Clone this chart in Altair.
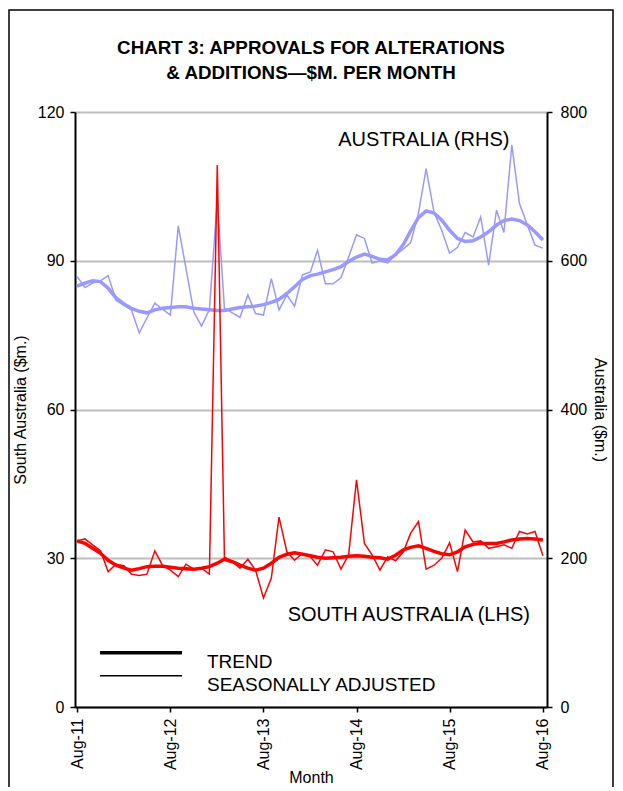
import altair as alt
import pandas as pd

months = pd.date_range("2011-08-01", periods=61, freq="MS").strftime("%Y-%m-%d").tolist()

sa_adj = [33.5, 33.9, 32.7, 31.5, 27.3, 28.8, 28.5, 26.8, 26.5, 26.8,
          31.5, 28.6, 27.6, 26.3, 28.8, 27.8, 28.0, 26.8, 109.3, 30.2,
          29.3, 28.0, 29.8, 27.6, 22.0, 26.0, 38.3, 31.3, 29.6, 31.0,
          30.3, 28.6, 31.7, 31.3, 27.8, 30.7, 45.8, 33.0, 30.7, 27.6,
          30.3, 29.5, 31.3, 35.0, 37.4, 27.8, 28.6, 30.0, 33.1, 27.3,
          35.7, 33.3, 33.5, 32.0, 32.3, 32.7, 32.0, 35.4, 34.9, 35.4, 30.5]
sa_trend = [33.5, 33.0, 32.0, 31.0, 29.6, 28.6, 28.0, 27.6, 27.9, 28.3,
            28.4, 28.4, 28.2, 28.0, 27.9, 27.8, 28.0, 28.3, 29.0, 29.8,
            29.3, 28.6, 28.0, 27.6, 28.0, 29.0, 30.2, 30.8, 31.1, 30.8,
            30.5, 30.2, 30.0, 30.1, 30.2, 30.4, 30.5, 30.4, 30.2, 30.1,
            29.8, 30.6, 31.7, 32.2, 32.5, 32.0, 31.4, 30.9, 30.7, 31.3,
            32.3, 32.8, 33.0, 33.0, 33.0, 33.3, 33.7, 33.9, 34.0, 33.9, 33.7]
aus_adj = [579, 564, 570, 573, 580, 547, 540, 534, 503, 523,
           543, 535, 527, 647, 590, 531, 512, 534, 682, 536,
           530, 524, 554, 529, 527, 576, 534, 554, 539, 581,
           585, 614, 569, 569, 577, 605, 635, 630, 597, 600,
           597, 608, 616, 624, 664, 724, 665, 641, 610, 618,
           638, 632, 659, 594, 668, 638, 756, 677, 648, 621, 617]
aus_trend = [566, 570, 573, 572, 563, 550, 542, 536, 532, 530,
             534, 536, 537, 538, 538, 536, 535, 534, 533, 533,
             535, 537, 538, 539, 541, 544, 548, 556, 565, 575,
             580, 582, 585, 588, 592, 599, 605, 609, 606, 602,
             601, 608, 622, 640, 658, 667, 664, 655, 641, 630,
             626, 627, 632, 639, 648, 654, 656, 654, 648, 639, 628]

types = ["TREND", "SEASONALLY ADJUSTED"]
tick_years = [2011, 2012, 2013, 2014, 2015, 2016]
left_ticks = [0, 30, 60, 90, 120]
right_ticks = [0, 200, 400, 600, 800]

ann_text = ["AUSTRALIA  (RHS)", "SOUTH AUSTRALIA (LHS)"]
ann_date = ["2015-04-22", "2015-02-22"]
ann_val = [114.4, 18.6]

rows = []
for i, d in enumerate(months):
    rows.append({"date": d, "series": "SA", "type": "SEASONALLY ADJUSTED", "v": sa_adj[i]})
    rows.append({"date": d, "series": "SA", "type": "TREND", "v": sa_trend[i]})
    rows.append({"date": d, "series": "AUS", "type": "SEASONALLY ADJUSTED", "v": aus_adj[i]})
    rows.append({"date": d, "series": "AUS", "type": "TREND", "v": aus_trend[i]})
df = pd.DataFrame(rows)
ann = pd.DataFrame({"text": ann_text, "date": ann_date, "v": ann_val})

FONT = "Liberation Sans"

xenc = alt.X(
    "date:T",
    scale=alt.Scale(type="utc",
                    domain=[alt.DateTime(year=2011, month=7, date=24, utc=True),
                            alt.DateTime(year=2016, month=8, date=17, utc=True)]),
    axis=alt.Axis(values=[alt.DateTime(year=y, month=8, date=1, utc=True) for y in tick_years],
                  format="%b-%y", labelAngle=-90, title="Month", grid=False,
                  tickSize=5, tickColor="black", tickWidth=1.5,
                  domainColor="black", domainWidth=2,
                  labelFontSize=16, labelPadding=6, labelColor="black",
                  titleFontSize=16, titleFontWeight="normal", titlePadding=0,
                  titleColor="black"),
)

sw = alt.StrokeWidth(
    "type:N",
    scale=alt.Scale(domain=types, range=[3.5, 1.5]),
    legend=alt.Legend(title=None, orient="none", legendX=54, legendY=538,
                      symbolType="M-4,-0.9L4,-0.9", symbolStrokeColor="black",
                      symbolSize=420, labelFontSize=19, labelFont=FONT,
                      labelColor="black", labelBaseline="middle", labelOffset=54,
                      labelLimit=400, rowPadding=0),
)

aus = alt.Chart(df).transform_filter(alt.datum.series == "AUS").mark_line(
    color="#9999FF").encode(
    x=xenc,
    y=alt.Y("v:Q", scale=alt.Scale(domain=[0, 800]),
            axis=alt.Axis(orient="right", values=right_ticks, title="Australia ($m.)",
                          titleAngle=90, grid=False, tickSize=5, tickColor="black",
                          tickWidth=1.5, domainColor="black", domainWidth=2,
                          labelFontSize=16, labelPadding=8, labelColor="black",
                          titleFontSize=16, titleFontWeight="normal", titlePadding=5,
                          titleColor="black")),
    strokeWidth=sw,
)

sa = alt.Chart(df).transform_filter(alt.datum.series == "SA").mark_line(
    color="#FF0000").encode(
    x=xenc,
    y=alt.Y("v:Q", scale=alt.Scale(domain=[0, 120]),
            axis=alt.Axis(orient="left", values=left_ticks, title="South Australia ($m.)",
                          grid=True, gridColor="#BDBDBD", gridWidth=2,
                          tickSize=5, tickColor="black", tickWidth=1.5,
                          domainColor="black", domainWidth=2,
                          labelFontSize=16, labelPadding=6, labelColor="black",
                          titleFontSize=16, titleFontWeight="normal", titlePadding=9,
                          titleColor="black")),
    strokeWidth=sw,
)

text = alt.Chart(ann).mark_text(font=FONT, fontSize=20, color="black",
                                align="center", baseline="middle").encode(
    x=alt.X("date:T", scale=alt.Scale(type="utc")),
    y=alt.Y("v:Q", scale=alt.Scale(domain=[0, 120]), axis=None),
    text="text:N",
)

frame = alt.Chart(pd.DataFrame({"k": [0]})).mark_rect(
    fillOpacity=0, stroke="black", strokeWidth=1.5).encode(
    x=alt.value(-66), x2=alt.value(538), y=alt.value(-102), y2=alt.value(720))

chart = alt.layer(frame, aus, sa, text).resolve_scale(y="independent").properties(
    width=472, height=595,
    autosize=alt.AutoSizeParams(type="none"),
    padding={"left": 67, "top": 104, "right": 67, "bottom": 80},
    title=alt.Title(["CHART 3: APPROVALS FOR ALTERATIONS", "& ADDITIONS\u2014$M. PER MONTH"],
                    font=FONT, fontSize=18.8, fontWeight="bold", color="black",
                    anchor="middle", lineHeight=25, offset=-74),
).configure_view(stroke=None).configure_axis(labelFont=FONT, titleFont=FONT)

chart.save("out.html", embed_options={"renderer": "svg", "actions": False})
